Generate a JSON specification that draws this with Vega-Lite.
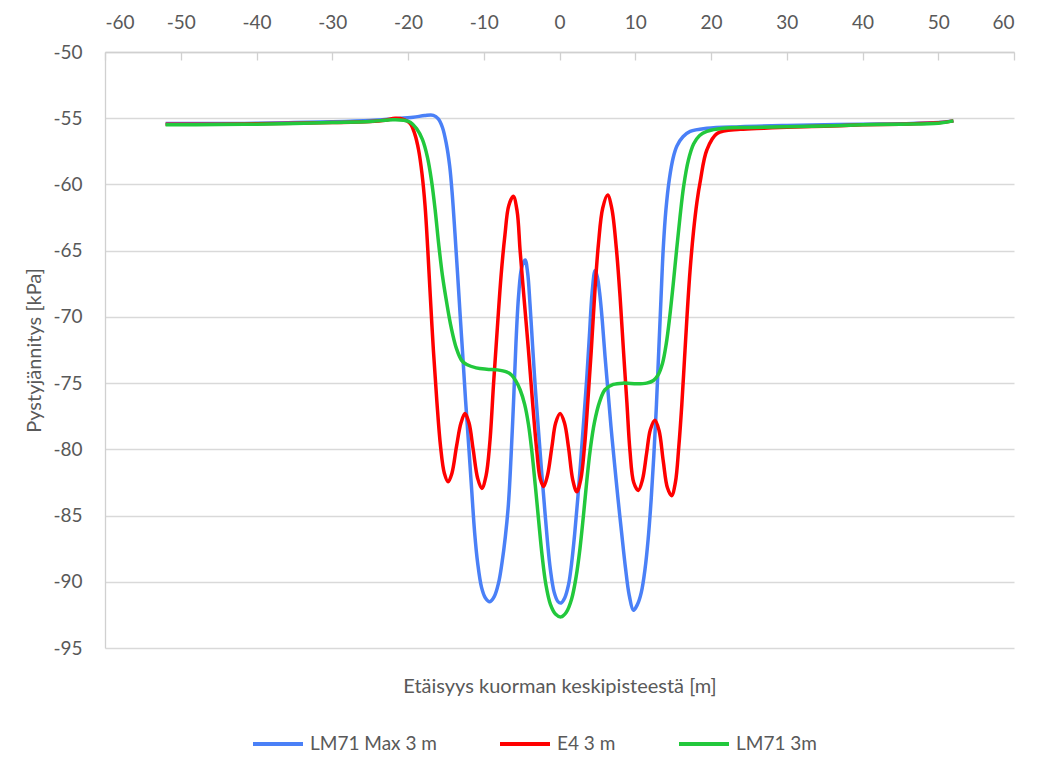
{
  "$schema": "https://vega.github.io/schema/vega-lite/v6.json",
  "autosize": {"type": "none"},
  "width": 909,
  "height": 596,
  "padding": {"left": 105, "top": 52, "right": 43, "bottom": 118},
  "background": "white",
  "config": {
    "font": "Lato",
    "view": {"stroke": null},
    "axis": {
      "labelFont": "Lato",
      "labelFontSize": 19,
      "labelColor": "#595959",
      "labelExpr": "'' + datum.value",
      "titleFont": "Lato",
      "titleFontSize": 20,
      "titleFontWeight": "normal",
      "titleColor": "#595959",
      "domainColor": "#d0d0d0",
      "domainWidth": 1.3,
      "tickColor": "#d0d0d0",
      "tickWidth": 1.3,
      "gridColor": "#d9d9d9",
      "gridWidth": 1.3
    },
    "legend": {
      "orient": "none",
      "legendX": 146,
      "legendY": 665,
      "direction": "horizontal",
      "padding": 0,
      "symbolType": "stroke",
      "symbolSize": 2500,
      "symbolStrokeWidth": 4,
      "labelFont": "Lato",
      "labelFontSize": 19,
      "labelColor": "#595959",
      "labelOffset": 5,
      "columnPadding": 55
    }
  },
  "datasets": {
    "stress": [
      {"s": "LM71 Max 3 m", "x": -52, "y": -55.4},
      {"s": "LM71 Max 3 m", "x": -45, "y": -55.4},
      {"s": "LM71 Max 3 m", "x": -40, "y": -55.38},
      {"s": "LM71 Max 3 m", "x": -35, "y": -55.33},
      {"s": "LM71 Max 3 m", "x": -30, "y": -55.27},
      {"s": "LM71 Max 3 m", "x": -25, "y": -55.17},
      {"s": "LM71 Max 3 m", "x": -22, "y": -55.05},
      {"s": "LM71 Max 3 m", "x": -19.3, "y": -54.93},
      {"s": "LM71 Max 3 m", "x": -17.8, "y": -54.8},
      {"s": "LM71 Max 3 m", "x": -16.65, "y": -54.78},
      {"s": "LM71 Max 3 m", "x": -16.0, "y": -55.05},
      {"s": "LM71 Max 3 m", "x": -15.45, "y": -55.7},
      {"s": "LM71 Max 3 m", "x": -14.95, "y": -56.9},
      {"s": "LM71 Max 3 m", "x": -14.5, "y": -58.6},
      {"s": "LM71 Max 3 m", "x": -14.15, "y": -60.8},
      {"s": "LM71 Max 3 m", "x": -13.8, "y": -63.7},
      {"s": "LM71 Max 3 m", "x": -13.45, "y": -66.8},
      {"s": "LM71 Max 3 m", "x": -13.1, "y": -70.0},
      {"s": "LM71 Max 3 m", "x": -12.75, "y": -73.1},
      {"s": "LM71 Max 3 m", "x": -12.4, "y": -76.3},
      {"s": "LM71 Max 3 m", "x": -12.0, "y": -79.6},
      {"s": "LM71 Max 3 m", "x": -11.6, "y": -83.0},
      {"s": "LM71 Max 3 m", "x": -11.2, "y": -86.3},
      {"s": "LM71 Max 3 m", "x": -10.8, "y": -88.6},
      {"s": "LM71 Max 3 m", "x": -10.3, "y": -90.4},
      {"s": "LM71 Max 3 m", "x": -9.8, "y": -91.2},
      {"s": "LM71 Max 3 m", "x": -9.2, "y": -91.5},
      {"s": "LM71 Max 3 m", "x": -8.6, "y": -91.1},
      {"s": "LM71 Max 3 m", "x": -8.05, "y": -90.1},
      {"s": "LM71 Max 3 m", "x": -7.6, "y": -88.6},
      {"s": "LM71 Max 3 m", "x": -7.15, "y": -86.6},
      {"s": "LM71 Max 3 m", "x": -6.75, "y": -84.2},
      {"s": "LM71 Max 3 m", "x": -6.4, "y": -80.6},
      {"s": "LM71 Max 3 m", "x": -6.05, "y": -76.2},
      {"s": "LM71 Max 3 m", "x": -5.75, "y": -72.0},
      {"s": "LM71 Max 3 m", "x": -5.4, "y": -68.4},
      {"s": "LM71 Max 3 m", "x": -5.0, "y": -66.3},
      {"s": "LM71 Max 3 m", "x": -4.54, "y": -65.7},
      {"s": "LM71 Max 3 m", "x": -4.2, "y": -66.7},
      {"s": "LM71 Max 3 m", "x": -3.9, "y": -69.0},
      {"s": "LM71 Max 3 m", "x": -3.55, "y": -72.2},
      {"s": "LM71 Max 3 m", "x": -3.2, "y": -75.3},
      {"s": "LM71 Max 3 m", "x": -2.8, "y": -78.4},
      {"s": "LM71 Max 3 m", "x": -2.4, "y": -81.4},
      {"s": "LM71 Max 3 m", "x": -2.0, "y": -84.2},
      {"s": "LM71 Max 3 m", "x": -1.6, "y": -86.9},
      {"s": "LM71 Max 3 m", "x": -1.2, "y": -89.1},
      {"s": "LM71 Max 3 m", "x": -0.7, "y": -90.8},
      {"s": "LM71 Max 3 m", "x": -0.2, "y": -91.5},
      {"s": "LM71 Max 3 m", "x": 0.2, "y": -91.6},
      {"s": "LM71 Max 3 m", "x": 0.7, "y": -91.2},
      {"s": "LM71 Max 3 m", "x": 1.2, "y": -90.2},
      {"s": "LM71 Max 3 m", "x": 1.6, "y": -88.6},
      {"s": "LM71 Max 3 m", "x": 2.0, "y": -86.4},
      {"s": "LM71 Max 3 m", "x": 2.4, "y": -83.8},
      {"s": "LM71 Max 3 m", "x": 2.8, "y": -80.9},
      {"s": "LM71 Max 3 m", "x": 3.2, "y": -77.8},
      {"s": "LM71 Max 3 m", "x": 3.6, "y": -74.6},
      {"s": "LM71 Max 3 m", "x": 3.95, "y": -71.4},
      {"s": "LM71 Max 3 m", "x": 4.3, "y": -68.2},
      {"s": "LM71 Max 3 m", "x": 4.7, "y": -66.5},
      {"s": "LM71 Max 3 m", "x": 5.0, "y": -67.0},
      {"s": "LM71 Max 3 m", "x": 5.3, "y": -68.2},
      {"s": "LM71 Max 3 m", "x": 5.65, "y": -70.3},
      {"s": "LM71 Max 3 m", "x": 6.0, "y": -72.9},
      {"s": "LM71 Max 3 m", "x": 6.4, "y": -75.6},
      {"s": "LM71 Max 3 m", "x": 6.8, "y": -78.3},
      {"s": "LM71 Max 3 m", "x": 7.25, "y": -81.0},
      {"s": "LM71 Max 3 m", "x": 7.7, "y": -83.6},
      {"s": "LM71 Max 3 m", "x": 8.2, "y": -86.3},
      {"s": "LM71 Max 3 m", "x": 8.7, "y": -88.9},
      {"s": "LM71 Max 3 m", "x": 9.2, "y": -91.0},
      {"s": "LM71 Max 3 m", "x": 9.76, "y": -92.15},
      {"s": "LM71 Max 3 m", "x": 10.3, "y": -91.7},
      {"s": "LM71 Max 3 m", "x": 10.8, "y": -90.8},
      {"s": "LM71 Max 3 m", "x": 11.3, "y": -89.0},
      {"s": "LM71 Max 3 m", "x": 11.7, "y": -86.8},
      {"s": "LM71 Max 3 m", "x": 12.1, "y": -83.8},
      {"s": "LM71 Max 3 m", "x": 12.45, "y": -80.5},
      {"s": "LM71 Max 3 m", "x": 12.8, "y": -76.6},
      {"s": "LM71 Max 3 m", "x": 13.1, "y": -72.6},
      {"s": "LM71 Max 3 m", "x": 13.4, "y": -68.6},
      {"s": "LM71 Max 3 m", "x": 13.7, "y": -64.8},
      {"s": "LM71 Max 3 m", "x": 14.05, "y": -61.9},
      {"s": "LM71 Max 3 m", "x": 14.5, "y": -59.6},
      {"s": "LM71 Max 3 m", "x": 15.0, "y": -58.0},
      {"s": "LM71 Max 3 m", "x": 15.5, "y": -57.1},
      {"s": "LM71 Max 3 m", "x": 16.3, "y": -56.4},
      {"s": "LM71 Max 3 m", "x": 17.25, "y": -56.0},
      {"s": "LM71 Max 3 m", "x": 19.45, "y": -55.76},
      {"s": "LM71 Max 3 m", "x": 23.85, "y": -55.64},
      {"s": "LM71 Max 3 m", "x": 30, "y": -55.55},
      {"s": "LM71 Max 3 m", "x": 35, "y": -55.5},
      {"s": "LM71 Max 3 m", "x": 40, "y": -55.45},
      {"s": "LM71 Max 3 m", "x": 45, "y": -55.42},
      {"s": "LM71 Max 3 m", "x": 50, "y": -55.33},
      {"s": "LM71 Max 3 m", "x": 52, "y": -55.2},

      {"s": "E4 3 m", "x": -52, "y": -55.45},
      {"s": "E4 3 m", "x": -45, "y": -55.45},
      {"s": "E4 3 m", "x": -40, "y": -55.42},
      {"s": "E4 3 m", "x": -35, "y": -55.38},
      {"s": "E4 3 m", "x": -30, "y": -55.33},
      {"s": "E4 3 m", "x": -25, "y": -55.25},
      {"s": "E4 3 m", "x": -23, "y": -55.15},
      {"s": "E4 3 m", "x": -21.7, "y": -55.0},
      {"s": "E4 3 m", "x": -20.5, "y": -55.1},
      {"s": "E4 3 m", "x": -19.7, "y": -55.4},
      {"s": "E4 3 m", "x": -19.1, "y": -56.2},
      {"s": "E4 3 m", "x": -18.6, "y": -57.4},
      {"s": "E4 3 m", "x": -18.15, "y": -59.2},
      {"s": "E4 3 m", "x": -17.75, "y": -61.6},
      {"s": "E4 3 m", "x": -17.4, "y": -64.8},
      {"s": "E4 3 m", "x": -17.05, "y": -68.5},
      {"s": "E4 3 m", "x": -16.65, "y": -72.5},
      {"s": "E4 3 m", "x": -16.2, "y": -76.3},
      {"s": "E4 3 m", "x": -15.7, "y": -79.8},
      {"s": "E4 3 m", "x": -15.2, "y": -81.8},
      {"s": "E4 3 m", "x": -14.7, "y": -82.45},
      {"s": "E4 3 m", "x": -14.2, "y": -81.8},
      {"s": "E4 3 m", "x": -13.6, "y": -79.8},
      {"s": "E4 3 m", "x": -13.0, "y": -78.0},
      {"s": "E4 3 m", "x": -12.47, "y": -77.3},
      {"s": "E4 3 m", "x": -11.95, "y": -78.0},
      {"s": "E4 3 m", "x": -11.4, "y": -80.0},
      {"s": "E4 3 m", "x": -10.8, "y": -82.2},
      {"s": "E4 3 m", "x": -10.26, "y": -82.95},
      {"s": "E4 3 m", "x": -9.7, "y": -82.0},
      {"s": "E4 3 m", "x": -9.2, "y": -79.5},
      {"s": "E4 3 m", "x": -8.7, "y": -75.0},
      {"s": "E4 3 m", "x": -8.2, "y": -70.8},
      {"s": "E4 3 m", "x": -7.7, "y": -66.8},
      {"s": "E4 3 m", "x": -7.2, "y": -63.8},
      {"s": "E4 3 m", "x": -6.7, "y": -61.6},
      {"s": "E4 3 m", "x": -6.1, "y": -60.9},
      {"s": "E4 3 m", "x": -5.6, "y": -62.0},
      {"s": "E4 3 m", "x": -5.2, "y": -65.0},
      {"s": "E4 3 m", "x": -4.65, "y": -68.8},
      {"s": "E4 3 m", "x": -4.1, "y": -72.5},
      {"s": "E4 3 m", "x": -3.55, "y": -76.5},
      {"s": "E4 3 m", "x": -3.0, "y": -80.1},
      {"s": "E4 3 m", "x": -2.55, "y": -82.2},
      {"s": "E4 3 m", "x": -2.1, "y": -82.8},
      {"s": "E4 3 m", "x": -1.6, "y": -82.0},
      {"s": "E4 3 m", "x": -1.0, "y": -79.8},
      {"s": "E4 3 m", "x": -0.5, "y": -78.0},
      {"s": "E4 3 m", "x": 0.08, "y": -77.3},
      {"s": "E4 3 m", "x": 0.65, "y": -78.0},
      {"s": "E4 3 m", "x": 1.2, "y": -79.9},
      {"s": "E4 3 m", "x": 1.75, "y": -82.3},
      {"s": "E4 3 m", "x": 2.28, "y": -83.2},
      {"s": "E4 3 m", "x": 2.8, "y": -82.3},
      {"s": "E4 3 m", "x": 3.3, "y": -79.8},
      {"s": "E4 3 m", "x": 3.75, "y": -76.3},
      {"s": "E4 3 m", "x": 4.2, "y": -72.5},
      {"s": "E4 3 m", "x": 4.7, "y": -67.8},
      {"s": "E4 3 m", "x": 5.14, "y": -64.5},
      {"s": "E4 3 m", "x": 5.7, "y": -61.8},
      {"s": "E4 3 m", "x": 6.35, "y": -60.8},
      {"s": "E4 3 m", "x": 6.9, "y": -61.8},
      {"s": "E4 3 m", "x": 7.5, "y": -64.8},
      {"s": "E4 3 m", "x": 8.0, "y": -68.5},
      {"s": "E4 3 m", "x": 8.44, "y": -72.5},
      {"s": "E4 3 m", "x": 8.9, "y": -76.5},
      {"s": "E4 3 m", "x": 9.3, "y": -80.1},
      {"s": "E4 3 m", "x": 9.8, "y": -82.5},
      {"s": "E4 3 m", "x": 10.4, "y": -83.1},
      {"s": "E4 3 m", "x": 10.95, "y": -82.3},
      {"s": "E4 3 m", "x": 11.5, "y": -80.3},
      {"s": "E4 3 m", "x": 12.0, "y": -78.5},
      {"s": "E4 3 m", "x": 12.6, "y": -77.8},
      {"s": "E4 3 m", "x": 13.15, "y": -78.6},
      {"s": "E4 3 m", "x": 13.7, "y": -80.9},
      {"s": "E4 3 m", "x": 14.25, "y": -82.9},
      {"s": "E4 3 m", "x": 14.8, "y": -83.5},
      {"s": "E4 3 m", "x": 15.3, "y": -82.5},
      {"s": "E4 3 m", "x": 15.75, "y": -79.8},
      {"s": "E4 3 m", "x": 16.15, "y": -76.6},
      {"s": "E4 3 m", "x": 16.5, "y": -73.2},
      {"s": "E4 3 m", "x": 16.85, "y": -69.8},
      {"s": "E4 3 m", "x": 17.25, "y": -66.4},
      {"s": "E4 3 m", "x": 17.7, "y": -63.5},
      {"s": "E4 3 m", "x": 18.15, "y": -61.3},
      {"s": "E4 3 m", "x": 18.6, "y": -59.7},
      {"s": "E4 3 m", "x": 19.45, "y": -57.4},
      {"s": "E4 3 m", "x": 20.8, "y": -56.15},
      {"s": "E4 3 m", "x": 23.85, "y": -55.84},
      {"s": "E4 3 m", "x": 27, "y": -55.75},
      {"s": "E4 3 m", "x": 30, "y": -55.68},
      {"s": "E4 3 m", "x": 35, "y": -55.6},
      {"s": "E4 3 m", "x": 40, "y": -55.5},
      {"s": "E4 3 m", "x": 45, "y": -55.45},
      {"s": "E4 3 m", "x": 50, "y": -55.35},
      {"s": "E4 3 m", "x": 52, "y": -55.2},

      {"s": "LM71 3m", "x": -52, "y": -55.5},
      {"s": "LM71 3m", "x": -45, "y": -55.48},
      {"s": "LM71 3m", "x": -40, "y": -55.45},
      {"s": "LM71 3m", "x": -35, "y": -55.4},
      {"s": "LM71 3m", "x": -30, "y": -55.33},
      {"s": "LM71 3m", "x": -25, "y": -55.25},
      {"s": "LM71 3m", "x": -22, "y": -55.12},
      {"s": "LM71 3m", "x": -20.6, "y": -55.15},
      {"s": "LM71 3m", "x": -19.7, "y": -55.3},
      {"s": "LM71 3m", "x": -18.85, "y": -55.8},
      {"s": "LM71 3m", "x": -18.1, "y": -56.6},
      {"s": "LM71 3m", "x": -17.45, "y": -57.9},
      {"s": "LM71 3m", "x": -16.9, "y": -59.7},
      {"s": "LM71 3m", "x": -16.4, "y": -62.0},
      {"s": "LM71 3m", "x": -15.95, "y": -64.5},
      {"s": "LM71 3m", "x": -15.45, "y": -66.9},
      {"s": "LM71 3m", "x": -14.9, "y": -68.9},
      {"s": "LM71 3m", "x": -14.3, "y": -70.8},
      {"s": "LM71 3m", "x": -13.6, "y": -72.4},
      {"s": "LM71 3m", "x": -12.9, "y": -73.3},
      {"s": "LM71 3m", "x": -12.25, "y": -73.6},
      {"s": "LM71 3m", "x": -11, "y": -73.85},
      {"s": "LM71 3m", "x": -9.6, "y": -73.95},
      {"s": "LM71 3m", "x": -8.2, "y": -74.0},
      {"s": "LM71 3m", "x": -7.0, "y": -74.15},
      {"s": "LM71 3m", "x": -6.3, "y": -74.4},
      {"s": "LM71 3m", "x": -5.8, "y": -74.8},
      {"s": "LM71 3m", "x": -5.2, "y": -75.5},
      {"s": "LM71 3m", "x": -4.6, "y": -76.6},
      {"s": "LM71 3m", "x": -4.1, "y": -78.1},
      {"s": "LM71 3m", "x": -3.66, "y": -80.1},
      {"s": "LM71 3m", "x": -3.2, "y": -82.7},
      {"s": "LM71 3m", "x": -2.75, "y": -85.4},
      {"s": "LM71 3m", "x": -2.3, "y": -88.0},
      {"s": "LM71 3m", "x": -1.8, "y": -90.2},
      {"s": "LM71 3m", "x": -1.2, "y": -91.7},
      {"s": "LM71 3m", "x": -0.5, "y": -92.45},
      {"s": "LM71 3m", "x": 0.2, "y": -92.65},
      {"s": "LM71 3m", "x": 0.9, "y": -92.3},
      {"s": "LM71 3m", "x": 1.6, "y": -91.3},
      {"s": "LM71 3m", "x": 2.2, "y": -89.6},
      {"s": "LM71 3m", "x": 2.7, "y": -87.5},
      {"s": "LM71 3m", "x": 3.16, "y": -85.0},
      {"s": "LM71 3m", "x": 3.6, "y": -82.4},
      {"s": "LM71 3m", "x": 4.04, "y": -80.1},
      {"s": "LM71 3m", "x": 4.6, "y": -78.0},
      {"s": "LM71 3m", "x": 5.3, "y": -76.4},
      {"s": "LM71 3m", "x": 6.0, "y": -75.5},
      {"s": "LM71 3m", "x": 7.1, "y": -75.1},
      {"s": "LM71 3m", "x": 8.5, "y": -75.0},
      {"s": "LM71 3m", "x": 10.2, "y": -75.05},
      {"s": "LM71 3m", "x": 11.5, "y": -75.0},
      {"s": "LM71 3m", "x": 12.4, "y": -74.8},
      {"s": "LM71 3m", "x": 13.0, "y": -74.4},
      {"s": "LM71 3m", "x": 13.6, "y": -73.5},
      {"s": "LM71 3m", "x": 14.1, "y": -72.0},
      {"s": "LM71 3m", "x": 14.55, "y": -70.0},
      {"s": "LM71 3m", "x": 15.0, "y": -67.6},
      {"s": "LM71 3m", "x": 15.45, "y": -65.0},
      {"s": "LM71 3m", "x": 15.9, "y": -62.5},
      {"s": "LM71 3m", "x": 16.4, "y": -60.1},
      {"s": "LM71 3m", "x": 17.0, "y": -58.2},
      {"s": "LM71 3m", "x": 17.7, "y": -56.95},
      {"s": "LM71 3m", "x": 18.5, "y": -56.3},
      {"s": "LM71 3m", "x": 19.45, "y": -56.0},
      {"s": "LM71 3m", "x": 21.6, "y": -55.76},
      {"s": "LM71 3m", "x": 25, "y": -55.7},
      {"s": "LM71 3m", "x": 30, "y": -55.65},
      {"s": "LM71 3m", "x": 35, "y": -55.58},
      {"s": "LM71 3m", "x": 40, "y": -55.5},
      {"s": "LM71 3m", "x": 45, "y": -55.45},
      {"s": "LM71 3m", "x": 50, "y": -55.38},
      {"s": "LM71 3m", "x": 52, "y": -55.2}
    ]
  },
  "data": {"name": "stress"},
  "encoding": {
    "y": {
      "field": "y",
      "type": "quantitative",
      "scale": {"domain": [-95, -50], "nice": false, "zero": false},
      "axis": {
        "title": "Pystyjännitys [kPa]",
        "values": [-95, -90, -85, -80, -75, -70, -65, -60, -55, -50],
        "ticks": false,
        "labelPadding": 23,
        "titlePadding": 8,
        "grid": true
      }
    },
    "color": {
      "field": "s",
      "type": "nominal",
      "title": null,
      "scale": {
        "domain": ["LM71 Max 3 m", "E4 3 m", "LM71 3m"],
        "range": ["#4a80f7", "#ff0000", "#22c83c"]
      }
    }
  },
  "layer": [
    {
      "transform": [{"filter": "datum.s === 'LM71 Max 3 m'"}],
      "mark": {"type": "line", "strokeWidth": 3.5, "interpolate": "catmull-rom"},
      "encoding": {
        "x": {
          "field": "x",
          "type": "quantitative",
          "scale": {"domain": [-60, 60], "nice": false},
          "axis": {
            "orient": "top",
            "title": null,
            "values": [-60, -50, -40, -30, -20, -10, 0, 10, 20, 30, 40, 50, 60],
            "tickSize": -8,
            "labelPadding": 28,
            "grid": false
          }
        }
      }
    },
    {
      "transform": [{"filter": "datum.s === 'E4 3 m'"}],
      "mark": {"type": "line", "strokeWidth": 3.5, "interpolate": "catmull-rom"},
      "encoding": {
        "x": {
          "field": "x",
          "type": "quantitative",
          "scale": {"domain": [-60, 60], "nice": false},
          "axis": {
            "orient": "bottom",
            "title": "Etäisyys kuorman keskipisteestä [m]",
            "labels": false,
            "ticks": false,
            "domain": false,
            "grid": false,
            "titlePadding": 28
          }
        }
      }
    },
    {
      "transform": [{"filter": "datum.s === 'LM71 3m'"}],
      "mark": {"type": "line", "strokeWidth": 3.5, "interpolate": "catmull-rom"},
      "encoding": {
        "x": {
          "field": "x",
          "type": "quantitative",
          "scale": {"domain": [-60, 60], "nice": false},
          "axis": null
        }
      }
    }
  ],
  "resolve": {"axis": {"x": "independent"}}
}
